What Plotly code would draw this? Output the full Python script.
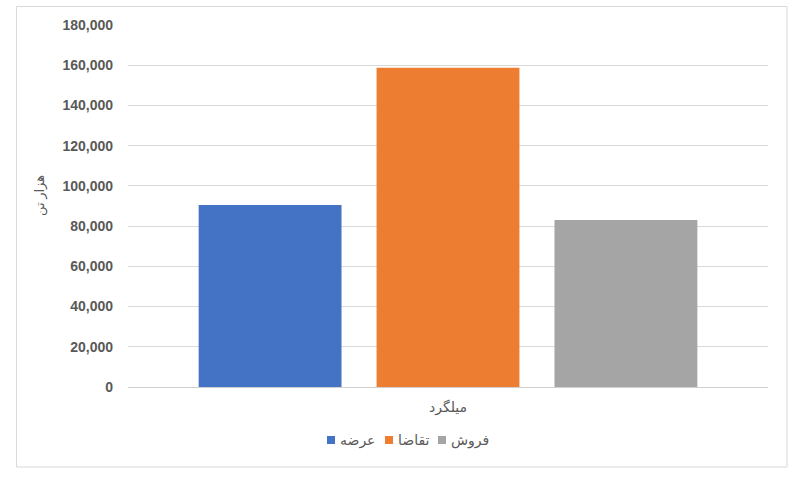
import plotly.graph_objects as go

categories = ["میلگرد"]
series_names = ["عرضه", "تقاضا", "فروش"]
supply = [90500]
demand = [158700]
sales = [83000]
series_values = [supply, demand, sales]
colors = ["#4472C4", "#ED7D31", "#A5A5A5"]
y_ticks = [0, 20000, 40000, 60000, 80000, 100000, 120000, 140000, 160000, 180000]
y_title = "هزار تن"

W, H = 796, 477
ml, mr, mt, mb = 128, 28, 25, 90
pw, ph = W - ml - mr, H - mt - mb

fig = go.Figure()
for name, vals, col in zip(series_names, series_values, colors):
    fig.add_trace(go.Bar(
        x=categories, y=vals, name=name, showlegend=False,
        marker=dict(color=col, line=dict(width=0)),
    ))

def px_x(p):
    return (p - ml) / pw

def px_y(p):
    return (H - mb - p) / ph

font_family = "Liberation Sans, Arial, DejaVu Sans, sans-serif"

shapes = [dict(type="rect", xref="paper", yref="paper",
               x0=px_x(16.5), x1=px_x(787), y0=px_y(467), y1=px_y(6.5),
               line=dict(color="#d9d9d9", width=1), fillcolor="rgba(0,0,0,0)", layer="below")]
annotations = [dict(text=y_title, xref="paper", yref="paper",
                    x=px_x(40), y=px_y(196), textangle=-90, showarrow=False,
                    xanchor="center", yanchor="middle",
                    font=dict(size=13, color="#595959"))]

# custom legend (marker square + label), laid out left to right
legend_start = [327, 385, 438]
legend_y = 440
for name, col, x0 in zip(series_names, colors, legend_start):
    shapes.append(dict(type="rect", xref="paper", yref="paper",
                       x0=px_x(x0), x1=px_x(x0 + 8), y0=px_y(legend_y + 4), y1=px_y(legend_y - 4),
                       line=dict(width=0), fillcolor=col))
    annotations.append(dict(text=name, xref="paper", yref="paper",
                            x=px_x(x0 + 11), y=px_y(legend_y), showarrow=False,
                            xanchor="left", yanchor="middle",
                            font=dict(size=14, color="#595959")))

fig.update_layout(
    width=W, height=H,
    margin=dict(l=ml, r=mr, t=mt, b=mb),
    paper_bgcolor="white", plot_bgcolor="white",
    barmode="group", bargap=0.166, bargroupgap=0.197,
    font=dict(family=font_family, color="#595959"),
    showlegend=False,
    xaxis=dict(showgrid=False, showline=False, ticks="", zeroline=False,
               ticklabelstandoff=10,
               tickfont=dict(size=14, color="#595959")),
    yaxis=dict(range=[0, 180000], tickvals=y_ticks, tickformat=",d",
               showgrid=True, gridcolor="#d9d9d9", gridwidth=1,
               zeroline=True, zerolinecolor="#d0d0d0", zerolinewidth=1,
               showline=False, ticks="", ticklabelstandoff=14,
               tickfont=dict(size=14, color="#595959", family="Liberation Sans, Arial, sans-serif", weight="bold")),
    shapes=shapes,
    annotations=annotations,
)

fig.write_html("out.html", config={"displayModeBar": False},
               post_script="document.body.style.margin='0';document.body.style.overflow='hidden';")
